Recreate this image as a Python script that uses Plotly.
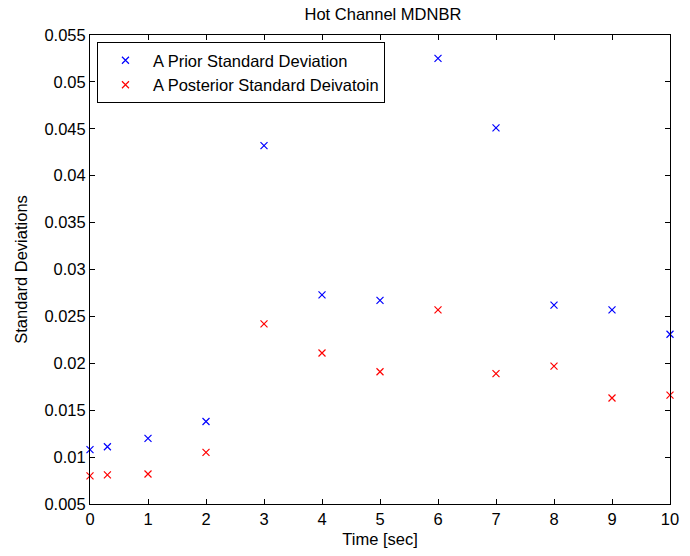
import plotly.graph_objects as go

time = [0, 0.3, 1, 2, 3, 4, 5, 6, 7, 8, 9, 10]
prior_sd = [0.0108, 0.0111, 0.0120, 0.0138, 0.0432, 0.0273, 0.0267, 0.0525, 0.0451, 0.0262, 0.0257, 0.0231]
posterior_sd = [0.0080, 0.0081, 0.0082, 0.0105, 0.0242, 0.0211, 0.0191, 0.0257, 0.0189, 0.0197, 0.0163, 0.0166]
x_ticks = list(range(0, 11))
y_ticks = [0.005, 0.01, 0.015, 0.02, 0.025, 0.03, 0.035, 0.04, 0.045, 0.05, 0.055]
y_tick_text = ["0.005", "0.01", "0.015", "0.02", "0.025", "0.03", "0.035", "0.04", "0.045", "0.05", "0.055"]

FONT = "Liberation Sans, Arial, sans-serif"
FS = 16.5

fig = go.Figure()
fig.add_trace(go.Scatter(x=time, y=prior_sd, mode="markers", name="A Prior Standard Deviation",
                         marker=dict(symbol="x-thin-open", size=7, color="#0000ff", line=dict(width=1.2, color="#0000ff")),
                         cliponaxis=False))
fig.add_trace(go.Scatter(x=time, y=posterior_sd, mode="markers", name="A Posterior Standard Deivatoin",
                         marker=dict(symbol="x-thin-open", size=7, color="#ff0000", line=dict(width=1.2, color="#ff0000")),
                         cliponaxis=False))

axis_common = dict(showgrid=False, zeroline=False, showline=True, linecolor="black", linewidth=1,
                   mirror="ticks", ticks="inside", ticklen=5, tickcolor="black",
                   tickfont=dict(family=FONT, size=FS, color="black"))

fig.update_layout(
    width=690, height=556,
    margin=dict(l=90, r=11, t=35, b=52),
    paper_bgcolor="white", plot_bgcolor="white",
    title=dict(text="Hot Channel MDNBR", x=0.555, xanchor="center", y=0.975, yanchor="middle",
               font=dict(family=FONT, size=FS, color="black")),
    xaxis=dict(range=[0, 10], tickvals=x_ticks,
               title=dict(text="Time [sec]", font=dict(family=FONT, size=FS, color="black"), standoff=6),
               **axis_common),
    yaxis=dict(range=[0.005, 0.055], tickvals=y_ticks, ticktext=y_tick_text,
               title=dict(text="Standard Deviations", font=dict(family=FONT, size=FS, color="black"), standoff=12),
               **axis_common),
    legend=dict(x=0.012, y=0.985, xanchor="left", yanchor="top",
                bordercolor="black", borderwidth=1, bgcolor="white",
                font=dict(family=FONT, size=FS, color="black"),
                itemsizing="trace", itemwidth=45, tracegroupgap=0),
    showlegend=True,
)

fig.write_html("out.html")
